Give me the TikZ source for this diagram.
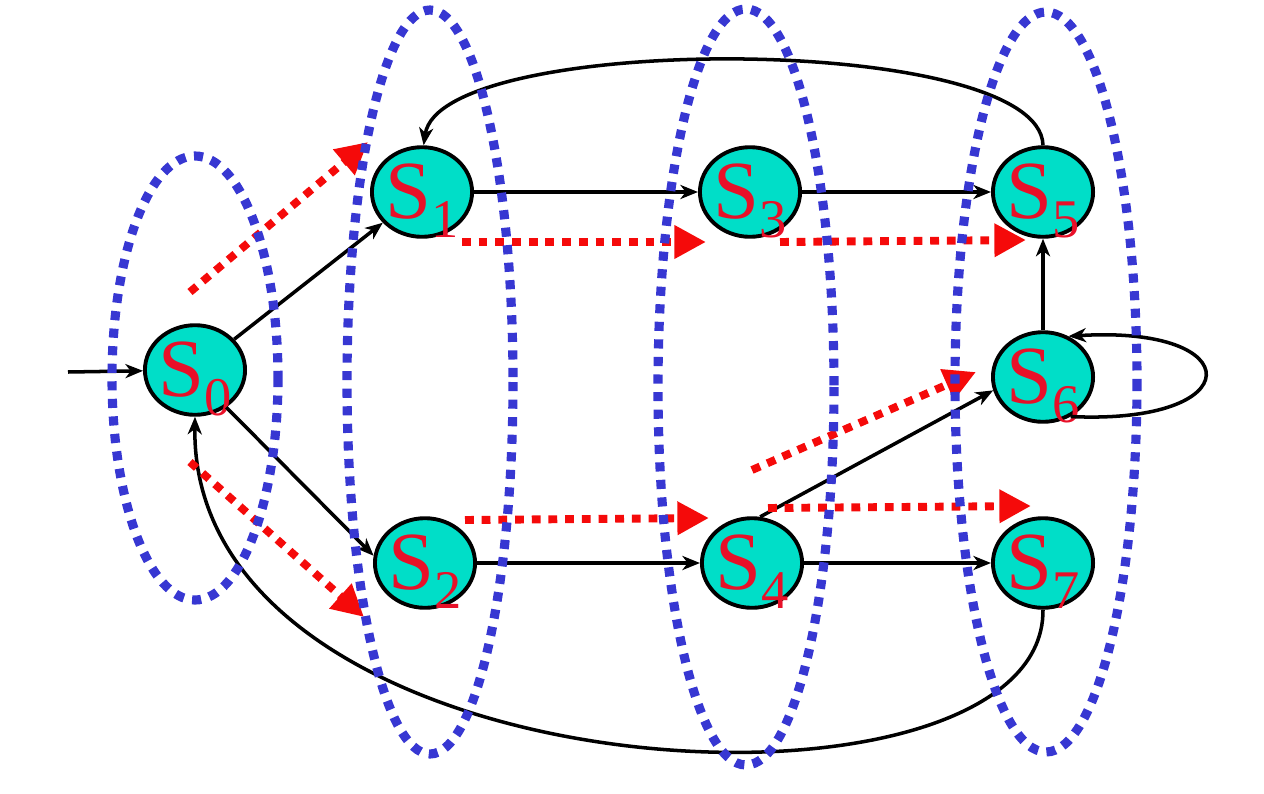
\documentclass[tikz,border=0pt]{standalone}
\usepackage{fontspec}
\setmainfont{Liberation Serif}
\newfontfamily\stfont{Liberation Serif}
\usetikzlibrary{arrows.meta,shapes.geometric}
\definecolor{stfill}{RGB}{0,222,200}
\definecolor{sttext}{RGB}{232,16,40}
\definecolor{ringblue}{RGB}{55,55,210}
\definecolor{flowred}{RGB}{245,10,10}
\newcommand{\stlabel}[1]{\makebox[0pt]{S\raisebox{-10.5pt}[0pt][0pt]{\fontsize{31}{31}\selectfont #1}}}
\begin{document}
\begin{tikzpicture}[x=0.02cm,y=-0.02cm,
  state/.style={ellipse, draw=black, line width=2.2pt, fill=stfill, minimum width=57pt, minimum height=51pt, inner sep=0pt, text=sttext, font=\stfont\fontsize{47}{47}\selectfont},
  trans/.style={draw=black, line width=2pt, -{Stealth[length=10pt,width=8pt,inset=3pt]}},
  flow/.style={draw=flowred, line width=4.5pt, dash pattern=on 5pt off 4.5pt, -{Triangle[length=18pt,width=18pt]}},
  ring/.style={draw=ringblue, line width=5.2pt, dash pattern=on 5.2pt off 4.8pt}]
\useasboundingbox (0,0) rectangle (1264,794);
% states
\node[state] (S0) at (195,370) {\stlabel{0}};
\node[state] (S1) at (422,192) {\stlabel{1}};
\node[state] (S3) at (750,192) {\stlabel{3}};
\node[state] (S5) at (1043,192) {\stlabel{5}};
\node[state] (S6) at (1043,377) {\stlabel{6}};
\node[state] (S2) at (425,563) {\stlabel{2}};
\node[state] (S4) at (752,563) {\stlabel{4}};
\node[state] (S7) at (1043,563) {\stlabel{7}};
\coordinate (start) at (68,372);
% transitions
\draw[trans] (start) -- (S0);
\draw[trans] (S0) -- (S1);
\draw[trans] (S0.-50) -- (S2.172);
\draw[trans] (S1) -- (S3);
\draw[trans] (S3) -- (S5);
\draw[trans] (S2) -- (S4);
\draw[trans] (S4) -- (S7);
\draw[trans] (S4.80) -- (S6.195);
\draw[trans] (S6) -- (S5);
\draw[trans] (S6.-55) .. controls (1250,425) and (1250,325) .. (S6.58);
\draw[trans] (S5.90) .. controls (1040,32) and (440,32) .. (S1.88);
\draw[trans] (S7.-90) .. controls (1045,840) and (190,800) .. (S0.-90);
% flow arrows
\coordinate (r1a) at (190,292); \coordinate (r1b) at (368,142);
\coordinate (r2a) at (190,462); \coordinate (r2b) at (364,617);
\coordinate (r3a) at (462,242); \coordinate (r3b) at (706,242);
\coordinate (r4a) at (780,242); \coordinate (r4b) at (1026,240);
\coordinate (r5a) at (465,520); \coordinate (r5b) at (709,518);
\coordinate (r6a) at (752,470); \coordinate (r6b) at (976,372);
\coordinate (r7a) at (768,508); \coordinate (r7b) at (1031,506);
\draw[flow] (r1a) -- (r1b);
\draw[flow] (r2a) -- (r2b);
\draw[flow] (r3a) -- (r3b);
\draw[flow] (r4a) -- (r4b);
\draw[flow] (r5a) -- (r5b);
\draw[flow] (r6a) -- (r6b);
\draw[flow] (r7a) -- (r7b);
% rings
\draw[ring] (195,378) ellipse [x radius=83, y radius=222];
\draw[ring] (430,382) ellipse [x radius=83, y radius=372];
\draw[ring] (746,387) ellipse [x radius=88, y radius=378];
\draw[ring] (1046,382) ellipse [x radius=91, y radius=370];
\end{tikzpicture}
\end{document}
